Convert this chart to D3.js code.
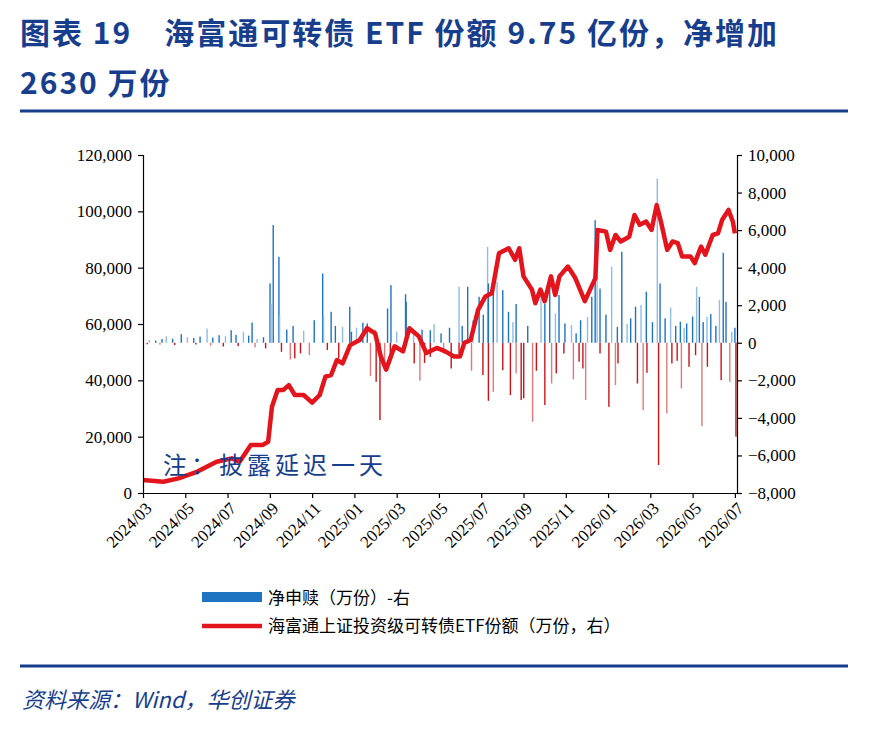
<!DOCTYPE html>
<html><head><meta charset="utf-8">
<script src="https://cdn.jsdelivr.net/npm/d3@7"></script>
<style>body{margin:0;background:#fff}</style></head>
<body><svg id="c" width="870" height="730"></svg>
<script>
const xTickLabels=["2024/03","2024/05","2024/07","2024/09","2024/11","2025/01","2025/03","2025/05","2025/07","2025/09","2025/11","2026/01","2026/03","2026/05","2026/07"];
const leftTicks=[0,20000,40000,60000,80000,100000,120000];
const rightTicks=[-8000,-6000,-4000,-2000,0,2000,4000,6000,8000,10000];
// share line: [months since 2024/03, 万份]
const shareMonth=[0,0.96,1.68,2.58,3.48,4.2,4.57,5.1,5.65,5.92,6.1,6.37,6.64,6.9,7.18,7.6,8.0,8.36,8.63,8.9,9.17,9.44,9.8,10.25,10.6,10.98,11.25,11.5,11.9,12.3,12.6,13.05,13.4,13.9,14.3,14.7,15.0,15.2,15.5,15.85,16.2,16.5,16.84,17.3,17.6,17.8,18.0,18.4,18.56,18.8,19.0,19.3,19.5,19.7,20.1,20.45,20.9,21.4,21.5,21.9,22.1,22.35,22.6,23.0,23.25,23.5,23.8,24.06,24.3,24.5,24.8,25.05,25.3,25.5,25.9,26.1,26.4,26.6,26.95,27.2,27.4,27.7,27.9,28.0];
const shareValue=[4600,4000,5200,7600,11100,12300,11100,17000,17000,18200,30600,36600,36600,38300,34800,34800,32100,34800,41300,41900,47200,46000,52500,54300,58500,56700,48500,43800,52100,50300,58500,55600,49700,51500,50300,48500,48500,53300,54300,65000,69800,70900,85100,86900,82800,86900,76900,72200,67400,72200,68100,76900,70300,76900,80400,76300,68100,76300,93400,92800,86300,91600,89300,91000,98700,95200,96400,93400,102200,96400,86300,89300,88700,84000,84000,81600,87500,84600,91600,92200,97000,100500,96400,92200];
// net subscription bars: [months, 万份]
const flowMonth=[0.3,0.6,0.9,1.10,1.4,1.81,2.1,2.4,2.7,3.03,3.3,3.6,3.9,4.17,4.4,4.75,5.0,5.16,5.4,5.7,6.01,6.06,6.16,6.43,6.46,6.8,7.1,7.6,8.1,8.50,8.54,8.90,9.1,9.44,9.78,9.86,10.1,10.40,10.61,11.0,11.57,11.73,12.0,12.42,12.45,12.8,13.2,13.59,13.77,14.1,14.5,14.95,15.1,15.36,15.6,15.90,16.1,16.30,16.34,16.57,16.75,17.02,17.29,17.5,17.65,18.2,18.83,19.01,19.24,19.51,19.68,19.96,20.27,20.49,20.7,21.03,21.23,21.39,21.48,21.62,21.9,22.17,22.44,22.65,22.9,23.07,23.30,23.56,23.81,24.1,24.33,24.46,24.7,24.96,25.2,25.42,25.6,25.72,26.0,26.19,26.32,26.5,26.68,26.86,27.1,27.27,27.45,27.58,27.85,28.0,
0.2,0.8,1.5,2.5,3.2,3.8,4.5,5.3,5.8,6.55,6.97,7.18,7.45,7.87,8.72,9.26,10.76,11.03,11.21,11.43,11.70,12.83,13.10,13.32,13.59,14.22,14.58,14.95,15.54,16.08,16.34,16.57,17.02,17.38,17.65,17.89,18.01,18.43,18.61,19.01,19.33,19.55,19.91,20.36,20.63,20.81,20.94,21.62,22.04,22.35,22.47,23.39,23.66,23.84,24.39,24.78,25.02,25.27,25.47,25.83,26.14,26.44,26.70,27.35,27.76,28.05];
const flowValue=[150,120,200,350,220,460,300,250,330,760,280,400,350,670,420,590,380,1080,200,300,3160,2090,6270,4580,1470,700,900,650,1200,3690,1470,1650,900,850,1920,590,800,1070,1030,700,1830,3070,600,2590,2180,500,700,670,990,500,800,2980,900,2980,1200,2450,1500,5110,3160,3340,3250,2800,1650,1100,2060,900,2450,2090,3510,1560,2540,1030,940,500,1200,1380,2450,6530,3600,2890,1500,4050,850,4850,1000,1300,1920,2010,2720,1100,8750,3160,1300,1880,900,1120,800,1030,1400,2980,2450,1100,1380,1530,900,2270,4790,2180,590,800,
-80,-100,-120,-90,-150,-200,-180,-250,-300,-480,-890,-830,-570,-660,-390,-830,-1775,-2080,-4120,-1100,-920,-1100,-2020,-1070,-750,-570,-1370,-570,-1490,-1720,-3090,-2610,-1460,-2790,-1630,-3050,-2960,-4210,-1490,-3320,-2170,-1630,-570,-1950,-1010,-1370,-3050,-570,-3410,-2250,-1100,-2170,-3590,-1600,-6510,-3760,-1100,-960,-2430,-1280,-660,-4440,-1280,-1990,-2080,-5000];

const svg=d3.select("#c");
const L=143,R=737,T=155,B=493;
const x=d3.scaleLinear().domain([0,28.1]).range([L,R]);
const yl=d3.scaleLinear().domain([0,120000]).range([B,T]);
const yr=d3.scaleLinear().domain([-8000,10000]).range([B,T]);
const navy="#173e8c";
const serif="'Liberation Serif','DejaVu Serif',serif";
const cjk="'Noto Sans CJK SC',sans-serif";

svg.append("text").attr("x",20).attr("y",44).attr("fill",navy).attr("font-family",cjk).attr("font-weight","bold").attr("font-size",30).attr("letter-spacing",2).text("图表 19　海富通可转债 ETF 份额 9.75 亿份，净增加");
svg.append("text").attr("x",20).attr("y",94).attr("fill",navy).attr("font-family",cjk).attr("font-weight","bold").attr("font-size",30).attr("letter-spacing",2).text("2630 万份");
svg.append("line").attr("x1",20).attr("x2",848).attr("y1",111).attr("y2",111).attr("stroke",navy).attr("stroke-width",3);
svg.append("line").attr("x1",20).attr("x2",848).attr("y1",666).attr("y2",666).attr("stroke",navy).attr("stroke-width",3);
svg.append("text").attr("x",22).attr("y",708).attr("fill",navy).attr("font-family",cjk).attr("font-style","italic").attr("font-size",22).text("资料来源：Wind，华创证券");

// bars
const bars=flowMonth.map((m,i)=>({m,v:flowValue[i]}));
svg.append("g").selectAll("rect").data(bars).join("rect")
 .attr("x",d=>x(d.m)-0.7).attr("width",1.4)
 .attr("y",d=>d.v>=0?yr(d.v):yr(0)).attr("height",d=>Math.abs(yr(d.v)-yr(0)))
 .attr("fill",(d,i)=>d.v>=0?(i%3===0?"#8fbce6":"#1f74c2"):(i%3===0?"#e07a7a":"#c8141b"));

// line
const pts=shareMonth.map((m,i)=>[m,shareValue[i]]);
svg.append("path").datum(pts).attr("fill","none").attr("stroke","#e3141c").attr("stroke-width",4.5).attr("stroke-linejoin","round")
 .attr("d",d3.line().x(d=>x(d[0])).y(d=>yl(d[1])));

// axes
const fmt=d3.format(",");
const ga=svg.append("g").attr("transform",`translate(${L},0)`).call(d3.axisLeft(yl).tickValues(leftTicks).tickFormat(fmt).tickSize(5).tickPadding(6));
const gr=svg.append("g").attr("transform",`translate(${R},0)`).call(d3.axisRight(yr).tickValues(rightTicks).tickFormat(fmt).tickSize(5).tickPadding(6));
const gb=svg.append("g").attr("transform",`translate(0,${B})`).call(d3.axisBottom(x).tickValues(d3.range(0,29,2)).tickFormat((d,i)=>xTickLabels[i]).tickSize(5).tickSizeOuter(0));
gb.selectAll("text").attr("transform","rotate(-45)").attr("text-anchor","end").attr("dx","-0.3em").attr("dy","0.6em");
[ga,gr,gb].forEach(g=>{g.selectAll("text").attr("font-family",serif).attr("font-size",17).attr("fill","#000");
 g.selectAll("line,path").attr("stroke","#000").attr("stroke-width",1.2);});

svg.append("text").attr("x",163).attr("y",474).attr("fill",navy).attr("font-family",cjk).attr("font-size",24).attr("letter-spacing",4).text("注：披露延迟一天");

// legend
svg.append("rect").attr("x",202).attr("y",592).attr("width",60).attr("height",10).attr("fill","#1f74c2");
svg.append("text").attr("x",268).attr("y",604).attr("font-family",cjk).attr("font-size",17).text("净申赎（万份）-右");
svg.append("line").attr("x1",202).attr("x2",262).attr("y1",626).attr("y2",626).attr("stroke","#e3141c").attr("stroke-width",4.5);
svg.append("text").attr("x",268).attr("y",632).attr("font-family",cjk).attr("font-size",17).text("海富通上证投资级可转债ETF份额（万份，右）");
</script></body></html>
